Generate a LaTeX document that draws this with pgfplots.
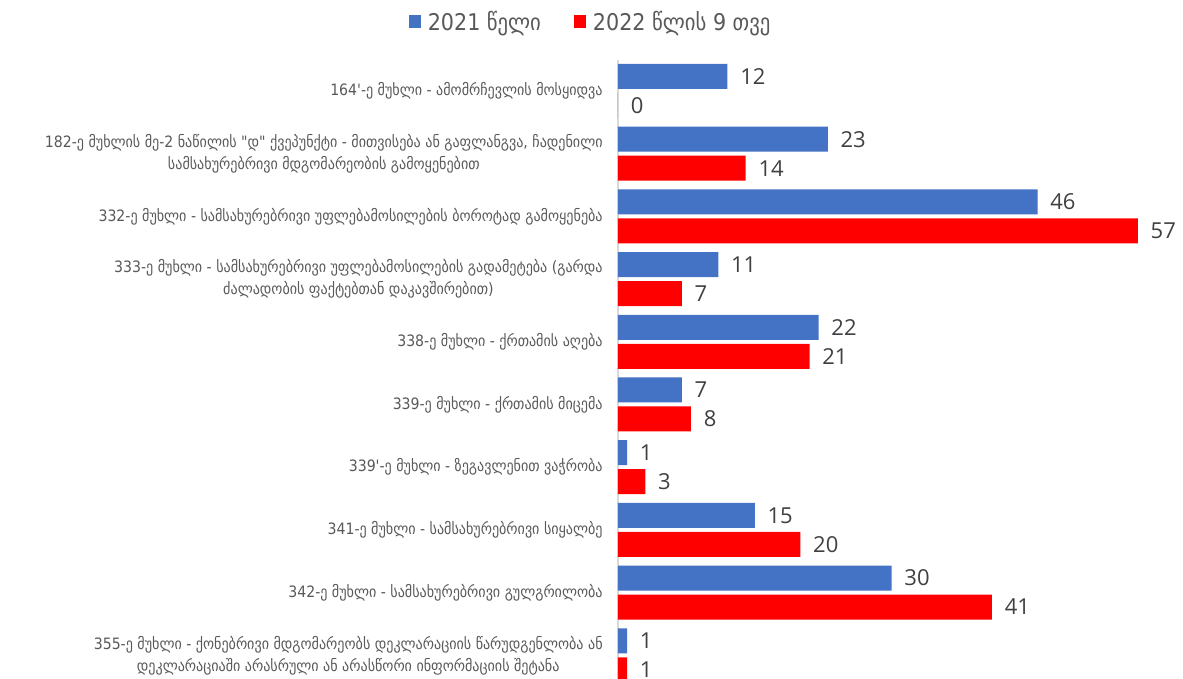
\documentclass[border=0pt]{standalone}
\usepackage{fontspec}
\usepackage{pgfplots}
\pgfplotsset{compat=1.18}
\newfontfamily\geo{DejaVu Sans Condensed}
\newfontfamily\num{Open Sans}
\definecolor{cblue}{HTML}{4472C4}
\definecolor{cred}{HTML}{FF0000}
\definecolor{lblgray}{HTML}{595959}
\definecolor{numgray}{HTML}{404040}
\definecolor{axgray}{HTML}{D9D9D9}
\begin{document}
\begin{tikzpicture}
\begin{axis}[
  scale only axis,
  width=339pt, height=371.61pt,
  xbar,
  y dir=reverse,
  xmin=0, xmax=61.95,
  ymin=-0.5, ymax=9.378,
  bar width=15pt,
  axis x line=none,
  axis y line=left,
  y axis line style={-, draw=axgray, line width=0.8pt},
  ytick={0,...,9},
  major tick length=0pt,
  /pgf/number format/assume math mode=true,
  yticklabels={
    {164'-ე მუხლი - ამომრჩევლის მოსყიდვა},
    {182-ე მუხლის მე-2 ნაწილის "დ" ქვეპუნქტი - მითვისება ან გაფლანგვა, ჩადენილი\\სამსახურებრივი მდგომარეობის გამოყენებით},
    {332-ე მუხლი - სამსახურებრივი უფლებამოსილების ბოროტად გამოყენება},
    {333-ე მუხლი - სამსახურებრივი უფლებამოსილების გადამეტება (გარდა\\ძალადობის ფაქტებთან დაკავშირებით)},
    {338-ე მუხლი - ქრთამის აღება},
    {339-ე მუხლი - ქრთამის მიცემა},
    {339'-ე მუხლი - ზეგავლენით ვაჭრობა},
    {341-ე მუხლი - სამსახურებრივი სიყალბე},
    {342-ე მუხლი - სამსახურებრივი გულგრილობა},
    {355-ე მუხლი - ქონებრივი მდგომარეობს დეკლარაციის წარუდგენლობა ან\\დეკლარაციაში არასრული ან არასწორი ინფორმაციის შეტანა}
  },
  yticklabel style={font=\geo\fontsize{9.4}{13.2}\selectfont, text=lblgray, align=center, inner sep=0pt, xshift=-9pt},
  nodes near coords,
  nodes near coords style={font=\num\fontsize{13.2}{15}\selectfont, text=numgray, anchor=west, inner sep=0pt, xshift=7.5pt},
  legend columns=2,
  legend style={draw=none, at={(-0.0469,1.0608)}, anchor=center, font=\geo\fontsize{13.8}{16}\selectfont, text=lblgray,
    /tikz/every even column/.append style={column sep=18pt}, inner sep=0pt},
  legend image code/.code={\fill[#1] (0pt,-3.9pt) rectangle (7.2pt,3.9pt);},
  legend cell align=left,
]
\addplot[fill=cblue, draw=none, bar shift=8.7pt] coordinates {
 (12,0) (23,1) (46,2) (11,3) (22,4) (7,5) (1,6) (15,7) (30,8) (1,9)};
\addplot[fill=cred, draw=none, bar shift=-8.7pt] coordinates {
 (0,0) (14,1) (57,2) (7,3) (21,4) (8,5) (3,6) (20,7) (41,8) (1,9)};
\legend{\hspace{2pt}2021 წელი, \hspace{2pt}2022 წლის 9 თვე}
\coordinate (BBa) at (axis cs:-67.76,-1.451);
\coordinate (BBb) at (axis cs:61.95,9.378);
\end{axis}
\pgfresetboundingbox
\path (BBa) rectangle (BBb);
\end{tikzpicture}
\end{document}
